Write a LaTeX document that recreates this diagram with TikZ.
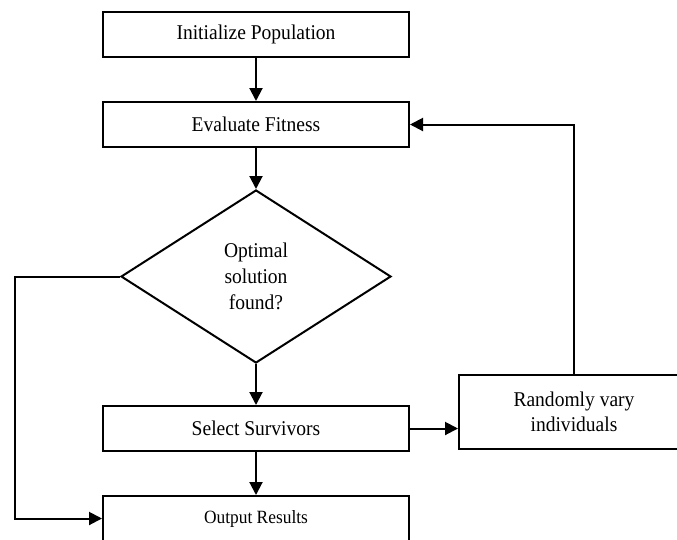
\documentclass[tikz,border=0pt]{standalone}
\usepackage{fontspec}
\setmainfont{Liberation Serif}[FakeStretch=0.93]
\usetikzlibrary{arrows.meta,shapes.geometric}
\tikzset{>={Triangle[length=13pt,width=13pt]},
  box/.style={draw,line width=2pt,minimum width=306pt,minimum height=45pt,inner sep=0pt,
    font=\fontsize{21}{26}\selectfont},
  decision/.style={diamond,draw,line width=2pt,minimum width=270pt,minimum height=173pt,
    inner sep=0pt,align=center,font=\fontsize{21}{26}\selectfont},
  flow/.style={->,line width=2pt}}

\begin{document}
\begin{tikzpicture}[x=1pt,y=-1pt]
    \useasboundingbox (0,0) rectangle (677,539);
    \clip (0,0) rectangle (677,539);
    \node[box] (init) at (256,34.5) {Initialize Population};
    \node[box] (eval) at (256,124.5) {Evaluate Fitness};
    \node[decision] (found) at (256,276.5) {Optimal\\solution\\found?};
    \node[box] (sel) at (256,428.5) {Select Survivors};
    \node[box,minimum width=230pt,minimum height=74pt,align=center,
      font=\fontsize{21}{25}\selectfont] (vary) at (574,412) {Randomly vary\\individuals};
    \node[box,font=\fontsize{18.7}{22}\selectfont] (out) at (256,518.5) {Output Results};
    \coordinate (lft) at (15,276.5);
    \draw[flow] (init) -- (eval);
    \draw[flow] (eval) -- (found);
    \draw[flow] (found) -- (sel);
    \draw[flow] (sel) -- (out);
    \draw[flow] (sel.east) -- (sel.east -| vary.west);
    \draw[flow] (vary.north) |- (eval.east);
    \draw[flow] (found.west) -- (lft) |- (out.west);
\end{tikzpicture}
\end{document}
